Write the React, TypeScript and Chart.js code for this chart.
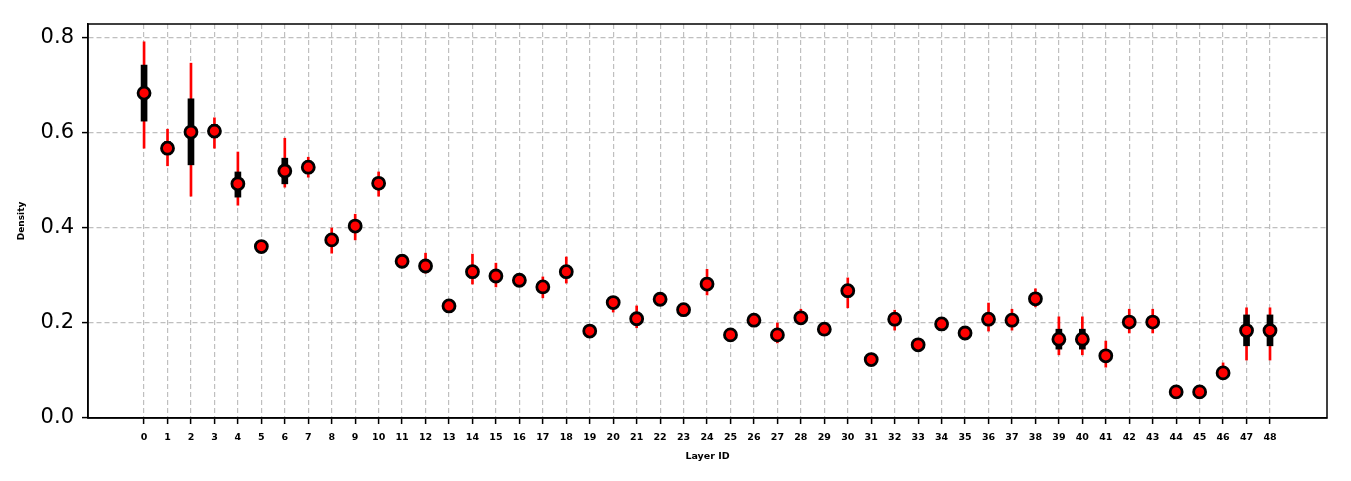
import React, { useEffect, useRef } from "react";
import { Chart, registerables } from "chart.js";

Chart.register(...registerables);

const layers = [
  0, 1, 2, 3, 4, 5, 6, 7, 8, 9, 10, 11, 12, 13, 14, 15, 16, 17, 18, 19, 20, 21, 22, 23, 24,
  25, 26, 27, 28, 29, 30, 31, 32, 33, 34, 35, 36, 37, 38, 39, 40, 41, 42, 43, 44, 45, 46, 47, 48,
];

const meanDensity = [
  0.684, 0.568, 0.602, 0.604, 0.493, 0.361, 0.52, 0.528, 0.375, 0.404, 0.494, 0.33, 0.32, 0.236,
  0.308, 0.299, 0.29, 0.276, 0.308, 0.183, 0.243, 0.209, 0.25, 0.228, 0.282, 0.175, 0.206, 0.175,
  0.211, 0.187, 0.268, 0.123, 0.208, 0.154, 0.198, 0.179, 0.208, 0.206, 0.251, 0.166, 0.166, 0.131,
  0.202, 0.202, 0.055, 0.055, 0.095, 0.184, 0.184,
];

const rangeLow = [
  0.568, 0.531, 0.467, 0.568, 0.448, 0.35, 0.486, 0.507, 0.347, 0.375, 0.467, 0.318, 0.305, 0.226,
  0.282, 0.276, 0.28, 0.253, 0.284, 0.172, 0.223, 0.19, 0.238, 0.216, 0.259, 0.163, 0.192, 0.158,
  0.198, 0.176, 0.232, 0.112, 0.185, 0.143, 0.186, 0.168, 0.183, 0.185, 0.234, 0.133, 0.133, 0.107,
  0.179, 0.179, 0.045, 0.045, 0.083, 0.122, 0.122,
];

const rangeHigh = [
  0.792, 0.608, 0.747, 0.632, 0.56, 0.372, 0.589, 0.549, 0.4, 0.429, 0.518, 0.342, 0.347, 0.246,
  0.345, 0.326, 0.302, 0.297, 0.339, 0.194, 0.256, 0.236, 0.262, 0.24, 0.313, 0.186, 0.22, 0.2,
  0.229, 0.198, 0.295, 0.134, 0.227, 0.165, 0.21, 0.19, 0.242, 0.229, 0.272, 0.213, 0.213, 0.162,
  0.229, 0.229, 0.066, 0.066, 0.116, 0.232, 0.232,
];

const spreadLow = [
  0.625, 0.555, 0.533, 0.59, 0.465, 0.355, 0.493, 0.515, 0.365, 0.393, 0.482, 0.322, 0.312, 0.23,
  0.295, 0.289, 0.283, 0.265, 0.296, 0.176, 0.233, 0.199, 0.242, 0.22, 0.27, 0.167, 0.198, 0.166,
  0.203, 0.18, 0.255, 0.116, 0.198, 0.147, 0.191, 0.172, 0.196, 0.197, 0.242, 0.145, 0.145, 0.122,
  0.192, 0.192, 0.05, 0.05, 0.088, 0.152, 0.152,
];

const spreadHigh = [
  0.743, 0.582, 0.672, 0.618, 0.518, 0.367, 0.547, 0.541, 0.385, 0.415, 0.506, 0.338, 0.33, 0.242,
  0.32, 0.31, 0.297, 0.287, 0.32, 0.19, 0.252, 0.22, 0.258, 0.236, 0.295, 0.183, 0.214, 0.184,
  0.219, 0.194, 0.281, 0.13, 0.218, 0.161, 0.205, 0.186, 0.22, 0.215, 0.26, 0.187, 0.187, 0.14,
  0.212, 0.212, 0.06, 0.06, 0.102, 0.217, 0.217,
];

const yTickValues = [0, 0.2, 0.4, 0.6, 0.8];

const FONT = "'DejaVu Sans', sans-serif";

const framePlugin = {
  id: "frame",
  afterDraw(chart: any) {
    const { ctx, chartArea } = chart;
    ctx.save();
    ctx.strokeStyle = "#000";
    ctx.lineWidth = 1.5;
    ctx.strokeRect(chartArea.left, chartArea.top, chartArea.right - chartArea.left, chartArea.bottom - chartArea.top);
    ctx.restore();
  },
};

export default function App() {
  const ref = useRef<HTMLCanvasElement>(null);
  useEffect(() => {
    if (!ref.current) return;
    const chart = new Chart(ref.current, {
      type: "scatter",
      data: {
        datasets: [
          {
            type: "scatter",
            label: "mean",
            data: layers.map((l, i) => ({ x: l, y: meanDensity[i] })),
            backgroundColor: "#ff0000",
            borderColor: "#000000",
            borderWidth: 2.8,
            pointRadius: 6,
            order: 0,
          } as any,
          {
            type: "bar",
            label: "spread",
            data: layers.map((l, i) => ({ x: l, y: [spreadLow[i], spreadHigh[i]] })),
            backgroundColor: "#000000",
            borderWidth: 0,
            barThickness: 6,
            grouped: false,
            order: 1,
          } as any,
          {
            type: "bar",
            label: "range",
            data: layers.map((l, i) => ({ x: l, y: [rangeLow[i], rangeHigh[i]] })),
            backgroundColor: "#ff0000",
            borderWidth: 0,
            barThickness: 2,
            grouped: false,
            order: 2,
          } as any,
        ],
      },
      options: {
        animation: false,
        responsive: false,
        maintainAspectRatio: false,
        layout: { padding: { left: 0, right: 24, top: 24, bottom: 0 } },
        plugins: { legend: { display: false }, tooltip: { enabled: false } },
        scales: {
          x: {
            type: "linear",
            min: -2.39,
            max: 50.43,
            offset: false,
            afterBuildTicks: (scale: any) => {
              scale.ticks = layers.map((v) => ({ value: v }));
            },
            afterFit: (scale: any) => {
              scale.height = 63;
            },
            ticks: {
              autoSkip: false,
              maxRotation: 0,
              padding: 8,
              color: "#000",
              font: { family: FONT, size: 9.5, weight: "bold" },
              callback: (v: any) => String(v),
            },
            grid: {
              offset: false,
              color: "rgba(180,180,180,0.85)",
              lineWidth: 1.2,
              tickLength: 6,
              tickColor: "#000",
              tickWidth: 1.5,
            },
            border: { display: true, color: "#000", width: 1.5, dash: [5, 3] },
            title: {
              display: true,
              text: "Layer ID",
              color: "#000",
              font: { family: FONT, size: 9.5, weight: "bold" },
              padding: { top: 0, bottom: 19 },
            },
          },
          y: {
            type: "linear",
            min: 0,
            max: 0.8295,
            afterBuildTicks: (scale: any) => {
              scale.ticks = yTickValues.map((v) => ({ value: v }));
            },
            afterFit: (scale: any) => {
              scale.width = 88;
            },
            ticks: {
              padding: 8,
              color: "#000",
              font: { family: FONT, size: 21 },
              callback: (v: any) => Number(v).toFixed(1),
            },
            grid: {
              offset: false,
              color: "rgba(180,180,180,0.85)",
              lineWidth: 1.2,
              tickLength: 6,
              tickColor: "#000",
              tickWidth: 1.5,
            },
            border: { display: true, color: "#000", width: 1.5, dash: [5, 3] },
            title: {
              display: true,
              text: "Density",
              color: "#000",
              font: { family: FONT, size: 9, weight: "bold" },
              padding: { top: 16, bottom: 0 },
            },
          },
        },
      } as any,
      plugins: [framePlugin],
    });
    return () => chart.destroy();
  }, []);
  return (
    <div style={{ position: "fixed", left: 0, top: 0, width: 1351, height: 481, background: "#fff" }}>
      <canvas ref={ref} width={1351} height={481} style={{ width: 1351, height: 481, display: "block" }} />
    </div>
  );
}
